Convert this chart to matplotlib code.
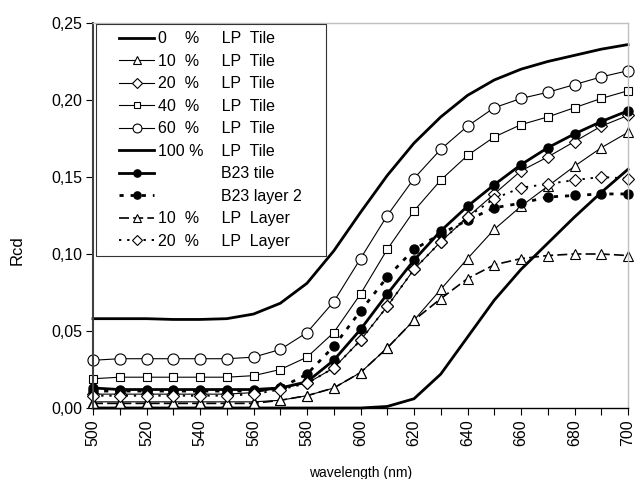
import matplotlib
matplotlib.use("Agg")
import matplotlib.pyplot as plt
from matplotlib.legend_handler import HandlerLine2D
from matplotlib.ticker import MultipleLocator, FuncFormatter

plt.rcParams['font.family'] = ['Liberation Sans', 'DejaVu Sans']

# wavelength axis (nm)
wavelength = [500, 510, 520, 530, 540, 550, 560, 570, 580, 590, 600,
              610, 620, 630, 640, 650, 660, 670, 680, 690, 700]

# Rcd values
lp0_tile = [0.000, 0.000, 0.000, 0.000, 0.000, 0.000, 0.000, 0.000, 0.000, 0.000, 0.000,
            0.001, 0.006, 0.022, 0.046, 0.070, 0.090, 0.107, 0.124, 0.140, 0.155]
lp10_tile = [0.004, 0.004, 0.004, 0.004, 0.004, 0.004, 0.004, 0.005, 0.008, 0.013, 0.023,
             0.039, 0.057, 0.077, 0.097, 0.116, 0.131, 0.144, 0.157, 0.169, 0.179]
lp20_tile = [0.009, 0.009, 0.009, 0.009, 0.009, 0.009, 0.010, 0.013, 0.016, 0.026, 0.044,
             0.066, 0.090, 0.108, 0.124, 0.139, 0.154, 0.163, 0.173, 0.183, 0.190]
lp40_tile = [0.019, 0.020, 0.020, 0.020, 0.020, 0.020, 0.021, 0.025, 0.033, 0.049, 0.074,
             0.103, 0.128, 0.148, 0.164, 0.176, 0.184, 0.189, 0.195, 0.201, 0.206]
lp60_tile = [0.031, 0.032, 0.032, 0.032, 0.032, 0.032, 0.033, 0.038, 0.049, 0.069, 0.097,
             0.125, 0.149, 0.168, 0.183, 0.195, 0.201, 0.205, 0.210, 0.215, 0.219]
lp100_tile = [0.058, 0.058, 0.058, 0.0575, 0.0575, 0.058, 0.061, 0.068, 0.081, 0.102, 0.127,
              0.151, 0.172, 0.189, 0.203, 0.213, 0.220, 0.225, 0.229, 0.233, 0.236]
b23_tile = [0.013, 0.012, 0.012, 0.012, 0.012, 0.012, 0.012, 0.013, 0.017, 0.031, 0.051,
            0.074, 0.096, 0.115, 0.131, 0.145, 0.158, 0.169, 0.178, 0.186, 0.193]
b23_layer2 = [0.011, 0.011, 0.011, 0.011, 0.011, 0.011, 0.011, 0.013, 0.022, 0.040, 0.063,
              0.085, 0.103, 0.113, 0.122, 0.130, 0.133, 0.137, 0.138, 0.139, 0.139]
lp10_layer = [0.003, 0.003, 0.003, 0.003, 0.003, 0.003, 0.003, 0.005, 0.008, 0.013, 0.023,
              0.039, 0.057, 0.071, 0.084, 0.093, 0.097, 0.099, 0.100, 0.100, 0.099]
lp20_layer = [0.008, 0.008, 0.008, 0.008, 0.008, 0.008, 0.009, 0.012, 0.016, 0.026, 0.044,
              0.066, 0.090, 0.108, 0.124, 0.136, 0.143, 0.1455, 0.148, 0.150, 0.149]

labels = ["0    %     LP  Tile",
          "10  %     LP  Tile",
          "20  %     LP  Tile",
          "40  %     LP  Tile",
          "60  %     LP  Tile",
          "100 %    LP  Tile",
          "              B23 tile",
          "              B23 layer 2",
          "10  %     LP  Layer",
          "20  %     LP  Layer"]

fig = plt.figure(figsize=(6.37, 4.79), dpi=100)
ax = fig.add_axes([93 / 637, 71 / 479, 535 / 637, 385 / 479])

thin = 0.8
thick = 2.0
common = dict(color='black', clip_on=False)

ax.plot(wavelength, lp0_tile, lw=thick, label=labels[0], **common)
ax.plot(wavelength, lp10_tile, lw=thin, marker='^', ms=7.5, mfc='white', mec='black',
        mew=0.8, label=labels[1], **common)
ax.plot(wavelength, lp20_tile, lw=thin, marker='D', ms=6, mfc='white', mec='black',
        mew=0.8, label=labels[2], **common)
ax.plot(wavelength, lp40_tile, lw=thin, marker='s', ms=6, mfc='white', mec='black',
        mew=0.8, label=labels[3], **common)
ax.plot(wavelength, lp60_tile, lw=thin, marker='o', ms=8, mfc='white', mec='black',
        mew=0.8, label=labels[4], **common)
ax.plot(wavelength, lp100_tile, lw=thick, label=labels[5], **common)
ax.plot(wavelength, b23_tile, lw=thick, marker='o', ms=6.5, mfc='black', mec='black',
        label=labels[6], **common)
ax.plot(wavelength, b23_layer2, lw=thick, ls=(0, (1.5, 2.5)), marker='o', ms=6.5,
        mfc='black', mec='black', label=labels[7], **common)
ax.plot(wavelength, lp10_layer, lw=1.2, ls=(0, (6, 2.5)), marker='^', ms=7.5, mfc='white',
        mec='black', mew=0.8, label=labels[8], **common)
ax.plot(wavelength, lp20_layer, lw=1.4, ls=(0, (1.2, 3)), marker='D', ms=6, mfc='white',
        mec='black', mew=0.8, label=labels[9], **common)

ax.set_xlim(500, 700)
ax.set_ylim(0, 0.25)

ax.xaxis.set_major_locator(MultipleLocator(20))
ax.xaxis.set_minor_locator(MultipleLocator(10))
ax.yaxis.set_major_locator(MultipleLocator(0.05))
ax.yaxis.set_major_formatter(FuncFormatter(lambda v, p: f"{v:.2f}".replace('.', ',')))
ax.tick_params(axis='x', which='both', direction='out', length=5, width=0.8,
               labelsize=11.5, labelrotation=90, pad=3)
ax.tick_params(axis='y', direction='out', length=5, width=0.8, labelsize=11.5, pad=3)

for side in ('top', 'right'):
    ax.spines[side].set_color('#c0c0c0')
    ax.spines[side].set_linewidth(1.0)
ax.spines['left'].set_color('#404040')
ax.spines['left'].set_linewidth(1.5)
ax.spines['bottom'].set_color('black')
ax.spines['bottom'].set_linewidth(1.0)

ax.set_xlabel("wavelength (nm)", fontsize=10)
ax.set_ylabel("Rcd", fontsize=12)
ax.xaxis.set_label_coords(0.5, -0.151)
ax.yaxis.set_label_coords(-0.127, 0.41)

# xpad pushes the handle line right, so the legend has a wide left margin like the original
leg = ax.legend(loc='upper left', bbox_to_anchor=(0.006, 0.0, 0.43, 0.997),
                mode='expand', borderaxespad=0, borderpad=0.45, fontsize=11.5,
                handlelength=3.18, handletextpad=0.23, labelspacing=0.47,
                markerscale=0.8, fancybox=False, framealpha=1,
                handler_map={plt.Line2D: HandlerLine2D(xpad=0.99)})
leg.get_frame().set_edgecolor('#333333')
leg.get_frame().set_linewidth(0.8)

fig.savefig("out.png", dpi=100)
